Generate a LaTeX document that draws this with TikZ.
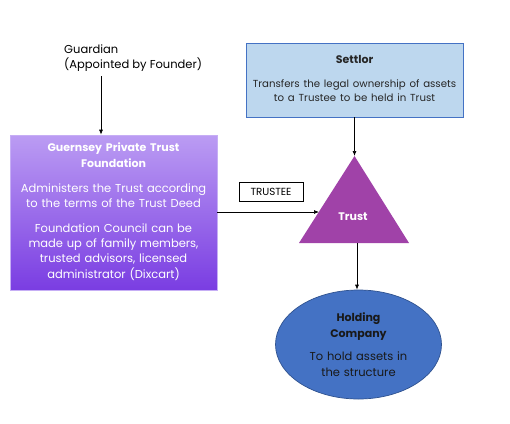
\documentclass[tikz,border=0pt]{standalone}
\usepackage{fontspec}
\setmainfont{Poppins}
\usetikzlibrary{arrows.meta,shapes.geometric,calc}
\definecolor{setfill}{HTML}{BDD7EE}
\definecolor{setdraw}{HTML}{4472C4}
\definecolor{trustc}{HTML}{A042A8}
\definecolor{holdfill}{HTML}{4472C4}
\definecolor{holddraw}{HTML}{2F528F}
\definecolor{ftop}{HTML}{BB9CF3}
\definecolor{fbot}{HTML}{7A3DE2}
\definecolor{fdraw}{HTML}{C6AEF5}
\newcommand{\titlef}{\fontsize{11}{16}\selectfont\bfseries}
\newcommand{\bodyf}{\fontsize{11.5}{15.3}\selectfont\mdseries}
\newcommand{\smallbodyf}{\fontsize{10.2}{14}\selectfont\mdseries}
\begin{document}
\begin{tikzpicture}[x=1pt,y=-1pt,
  every node/.style={font=\fontsize{11.5}{15}\selectfont, inner sep=0pt},
  conn/.style={draw=black, line width=0.7pt, -{Latex[length=5pt,width=4pt]}},
  lbl/.style={draw=black, line width=0.6pt, minimum width=64pt, minimum height=19pt, font=\fontsize{10.3}{12}\selectfont}
]
\useasboundingbox (0,0) rectangle (510,423);
% Guardian
\node[anchor=west, align=left] (guard) at (64,58) {Guardian\\(Appointed by Founder)};
\coordinate (gtail) at (101,76);
% Foundation
\node[draw=fdraw, line width=0.6pt, top color=ftop, bottom color=fbot, minimum width=207pt, minimum height=155pt, text width=205pt, align=center, text=white] (found) at (113.5,212.5)
 {\titlef Guernsey Private Trust\par Foundation\par\vspace{9.5pt}
  \bodyf Administers the Trust according\par to the terms of the Trust Deed\par\vspace{9.5pt}
  Foundation Council can be\par made up of family members,\par trusted advisors, licensed\par administrator (Dixcart)\par\vspace{2pt}};
% Settlor
\node[draw=setdraw, fill=setfill, line width=0.7pt, minimum width=217pt, minimum height=74pt, text width=215pt, align=center, text=black!85] (settlor) at (354.5,80)
 {\titlef Settlor\par\vspace{10pt}\smallbodyf Transfers the legal ownership of assets\par to a Trustee to be held in Trust\par\vspace{3pt}};
% Trust triangle
\coordinate (tapex) at (354.5,156);
\coordinate (tleft) at (319,212);
\coordinate (tbase) at (357,243);
\fill[trustc] (354.5,156) -- (409,243) -- (299,243) -- cycle;
\node[text=white, font=\fontsize{11}{13}\selectfont\bfseries] (trust) at (353,217) {Trust};
% Trustee label
\node[lbl] (trustee) at (271,191.5) {TRUSTEE};
% Holding company
\node[ellipse, draw=holddraw, fill=holdfill, line width=0.7pt, minimum width=166pt, minimum height=109pt, text width=100pt, align=center, text=black!90] (hold) at (358.5,344.5)
 {\titlef Holding\par Company\par\vspace{8pt}\bodyf To hold assets in\par the structure\par};
% connectors
\draw[conn] (gtail) -- (gtail |- found.north);
\draw[conn] (settlor.south) -- (tapex);
\draw[conn] (found.east |- tleft) -- (tleft);
\draw[conn] (tbase) -- (tbase |- hold.north);
\end{tikzpicture}
\end{document}
